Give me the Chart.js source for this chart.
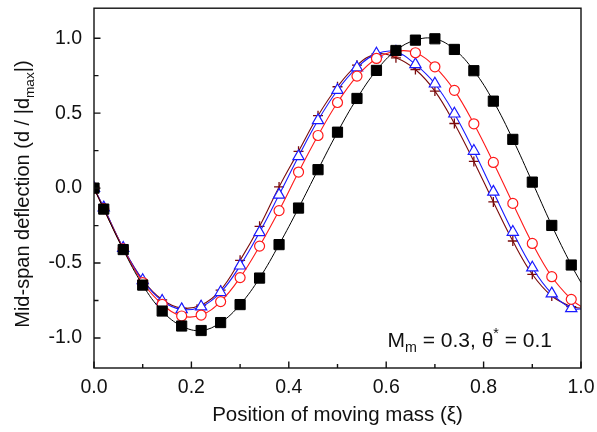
<!DOCTYPE html>
<html>
<head>
<meta charset="utf-8">
<script src="https://cdn.jsdelivr.net/npm/chart.js@4.4.1/dist/chart.umd.min.js"></script>
<style>
  html, body { margin: 0; padding: 0; background: #fff; }
  #wrap { width: 597px; height: 432px; }
</style>
</head>
<body>
<div id="wrap"><canvas id="chart" width="597" height="432"></canvas></div>
<script>
// Position of the moving mass (xi) where each curve is sampled / marked.
const xi = [0, 0.02, 0.06, 0.10, 0.14, 0.18, 0.22, 0.26, 0.30, 0.34, 0.38, 0.42, 0.46,
  0.50, 0.54, 0.58, 0.62, 0.66, 0.70, 0.74, 0.78, 0.82, 0.86, 0.90, 0.94, 0.98, 1.0];

// Normalised mid-span deflection.
const squareSeries = [0, -0.14, -0.41, -0.647, -0.82, -0.92, -0.95, -0.897, -0.777, -0.60, -0.377, -0.133, 0.123,
  0.373, 0.598, 0.785, 0.918, 0.987, 0.996, 0.925, 0.783, 0.58, 0.325, 0.04, -0.249, -0.513, -0.63];
const circleSeries = [0, -0.137, -0.405, -0.63, -0.775, -0.853, -0.847, -0.757, -0.597, -0.387, -0.15, 0.107, 0.351,
  0.571, 0.747, 0.865, 0.913, 0.903, 0.809, 0.652, 0.429, 0.171, -0.102, -0.369, -0.591, -0.742, -0.79];
const triangleSeries = [0, -0.13, -0.40, -0.615, -0.753, -0.809, -0.791, -0.695, -0.518, -0.295, -0.045, 0.211, 0.452,
  0.653, 0.803, 0.896, 0.909, 0.825, 0.696, 0.496, 0.247, -0.025, -0.293, -0.531, -0.704, -0.802, -0.807];
const plusSeries = [0, -0.13, -0.40, -0.612, -0.745, -0.80, -0.78, -0.68, -0.482, -0.255, 0.008, 0.245, 0.483,
  0.676, 0.82, 0.895, 0.869, 0.791, 0.647, 0.431, 0.178, -0.092, -0.353, -0.575, -0.72, -0.79, -0.80];

const xTicks = [0, 0.2, 0.4, 0.6, 0.8, 1.0];
const xMinorTicks = [0.1, 0.3, 0.5, 0.7, 0.9];
const yTicks = [-1.0, -0.5, 0.0, 0.5, 1.0];
const yMinorTicks = [-0.75, -0.25, 0.25, 0.75];

const FONT = '"Liberation Sans", Arial, Helvetica, sans-serif';

const toPoints = ( ys ) => xi.map( ( x, i ) => ( { x, y: ys[ i ] } ) );
// no marker at the right edge, the curves just run into the frame there
const markerSize = ( r ) => ( ctx ) => ( xi[ ctx.dataIndex ] === 1 ? 0 : r );

// Draw text with sub/superscript parts; parts = [[text, 'sub'|'sup'|undefined], ...]
function richText( ctx, parts, x, y, size, align ) {
	const fontFor = ( p ) => ( p[ 1 ] ? size * 0.68 : size ) + 'px ' + FONT;
	let w = 0;
	parts.forEach( ( p ) => { ctx.font = fontFor( p ); w += ctx.measureText( p[ 0 ] ).width; } );
	let cx = align === 'center' ? x - w / 2 : align === 'right' ? x - w : x;
	ctx.textAlign = 'left';
	ctx.textBaseline = 'alphabetic';
	parts.forEach( ( p ) => {
		ctx.font = fontFor( p );
		const dy = p[ 1 ] === 'sub' ? size * 0.25 : p[ 1 ] === 'sup' ? -size * 0.42 : 0;
		ctx.fillText( p[ 0 ], cx, y + dy );
		cx += ctx.measureText( p[ 0 ] ).width;
	} );
}

const decor = {
	id: 'decor',
	afterDatasetsDraw( chart ) {
		const { ctx, chartArea: a, scales: { x, y } } = chart;
		ctx.save();
		ctx.strokeStyle = '#111';
		ctx.lineWidth = 1.4;
		ctx.beginPath();
		// inward ticks, bottom and left only
		xTicks.forEach( ( v ) => { const px = x.getPixelForValue( v ); ctx.moveTo( px, a.bottom ); ctx.lineTo( px, a.bottom - 6.5 ); } );
		xMinorTicks.forEach( ( v ) => { const px = x.getPixelForValue( v ); ctx.moveTo( px, a.bottom ); ctx.lineTo( px, a.bottom - 4 ); } );
		yTicks.forEach( ( v ) => { const py = y.getPixelForValue( v ); ctx.moveTo( a.left, py ); ctx.lineTo( a.left + 6.5, py ); } );
		yMinorTicks.forEach( ( v ) => { const py = y.getPixelForValue( v ); ctx.moveTo( a.left, py ); ctx.lineTo( a.left + 4.5, py ); } );
		ctx.stroke();
		ctx.strokeRect( a.left, a.top, a.width, a.height );
		ctx.restore();
	},
	afterDraw( chart ) {
		const { ctx, chartArea: a } = chart;
		ctx.save();
		ctx.fillStyle = '#111';
		// x title
		richText( ctx, [ [ 'Position of moving mass (ξ)' ] ], ( a.left + a.right ) / 2, 421, 20.5, 'center' );
		// y title
		ctx.translate( 29, ( a.top + a.bottom ) / 2 + 6 );
		ctx.rotate( -Math.PI / 2 );
		richText( ctx, [ [ 'Mid-span deflection (d / |d' ], [ 'max', 'sub' ], [ '|)' ] ], 0, 0, 20, 'center' );
		ctx.setTransform( 1, 0, 0, 1, 0, 0 );
		// parameters
		richText( ctx, [ [ 'M' ], [ 'm', 'sub' ], [ ' = 0.3, θ' ], [ '*', 'sup' ], [ ' = 0.1' ] ], a.right - 29, a.bottom - 21, 21, 'right' );
		ctx.restore();
	},
};

new Chart( document.getElementById( 'chart' ), {
	type: 'line',
	data: {
		datasets: [
			{ data: toPoints( squareSeries ), borderColor: '#000', borderWidth: 1, tension: 0.4,
				pointStyle: 'rect', pointRadius: markerSize( 7.2 ), pointBackgroundColor: '#000', pointBorderColor: '#000', pointBorderWidth: 1 },
			{ data: toPoints( circleSeries ), borderColor: '#ff1a1a', borderWidth: 1.1, tension: 0.4,
				pointStyle: 'circle', pointRadius: markerSize( 5 ), pointBackgroundColor: '#fff', pointBorderColor: '#ff1a1a', pointBorderWidth: 1.2 },
			{ data: toPoints( triangleSeries ), borderColor: '#1a1aff', borderWidth: 1.1, tension: 0.4,
				pointStyle: 'triangle', pointRadius: markerSize( 6.5 ), pointBackgroundColor: '#fff', pointBorderColor: '#1a1aff', pointBorderWidth: 1.2 },
			{ data: toPoints( plusSeries ), borderColor: '#7a0a0a', borderWidth: 1.1, tension: 0.4,
				pointStyle: 'cross', pointRadius: markerSize( 5 ), pointBorderColor: '#7a0a0a', pointBorderWidth: 1.3 },
		],
	},
	options: {
		responsive: false,
		animation: false,
		layout: { padding: { top: 8, right: 16, left: 0, bottom: 0 } },
		plugins: { legend: { display: false }, tooltip: { enabled: false } },
		scales: {
			x: {
				type: 'linear', min: 0, max: 1,
				grid: { display: false, drawTicks: false },
				border: { display: false },
				afterBuildTicks: ( s ) => { s.ticks = xTicks.map( ( v ) => ( { value: v } ) ); },
				afterFit: ( s ) => { s.height = 64; s.paddingLeft = 0; s.paddingRight = 0; },
				ticks: { padding: 8, color: '#111', font: { family: FONT, size: 19.5 }, callback: ( v ) => v.toFixed( 1 ), maxRotation: 0 },
			},
			y: {
				type: 'linear', min: -1.2, max: 1.2,
				grid: { display: false, drawTicks: false },
				border: { display: false },
				afterBuildTicks: ( s ) => { s.ticks = yTicks.map( ( v ) => ( { value: v } ) ); },
				afterFit: ( s ) => { s.width = 94; s.paddingTop = 0; s.paddingBottom = 0; },
				ticks: { padding: 12, color: '#111', font: { family: FONT, size: 19.5 }, callback: ( v ) => v.toFixed( 1 ) },
			},
		},
	},
	plugins: [ decor ],
} );
</script>
</body>
</html>
